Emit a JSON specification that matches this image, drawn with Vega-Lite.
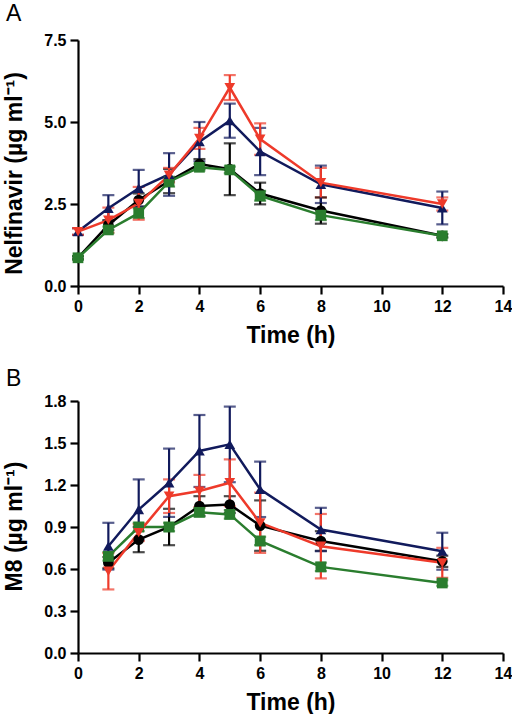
{
  "$schema": "https://vega.github.io/schema/vega-lite/v6.json",
  "background": "white",
  "padding": {"left": 2, "top": 3, "right": 0, "bottom": 0},
  "spacing": 21,
  "config": {
    "font": "Liberation Sans",
    "view": {"stroke": null},
    "axis": {
      "grid": false,
      "domainColor": "black",
      "domainWidth": 2.2,
      "tickColor": "black",
      "tickWidth": 2.2,
      "tickSize": 8,
      "labelFont": "Liberation Sans",
      "labelFontSize": 16,
      "labelFontWeight": "bold",
      "labelColor": "black",
      "labelPadding": 4,
      "labelFlush": false,
      "labelOverlap": false,
      "titleFont": "Liberation Sans",
      "titleFontSize": 23,
      "titleFontWeight": "bold",
      "titleColor": "black"
    },
    "title": {"font": "Liberation Sans", "fontSize": 23, "fontWeight": "normal", "color": "black", "anchor": "start", "frame": "group", "baseline": "alphabetic", "dx": -72}
  },
  "vconcat": [
    {
      "title": {"text": "A", "offset": 6},
      "width": 425,
      "height": 246,
      "data": {"values": [
        {"group": "Group 1", "t": 0, "c": 0.86, "err": 0.05},
        {"group": "Group 1", "t": 1, "c": 1.86, "err": 0.15},
        {"group": "Group 1", "t": 2, "c": 2.62, "err": 0.2},
        {"group": "Group 1", "t": 3, "c": 3.2, "err": 0.37},
        {"group": "Group 1", "t": 4, "c": 3.72, "err": 0.15},
        {"group": "Group 1", "t": 5, "c": 3.56, "err": 0.79},
        {"group": "Group 1", "t": 6, "c": 2.82, "err": 0.33},
        {"group": "Group 1", "t": 8, "c": 2.3, "err": 0.4},
        {"group": "Group 1", "t": 12, "c": 1.53, "err": 0.05},
        {"group": "Group 2", "t": 0, "c": 0.86, "err": 0.05},
        {"group": "Group 2", "t": 1, "c": 1.71, "err": 0.1},
        {"group": "Group 2", "t": 2, "c": 2.22, "err": 0.15},
        {"group": "Group 2", "t": 3, "c": 3.18, "err": 0.15},
        {"group": "Group 2", "t": 4, "c": 3.62, "err": 0.1},
        {"group": "Group 2", "t": 5, "c": 3.54, "err": 0.1},
        {"group": "Group 2", "t": 6, "c": 2.75, "err": 0.15},
        {"group": "Group 2", "t": 8, "c": 2.16, "err": 0.15},
        {"group": "Group 2", "t": 12, "c": 1.53, "err": 0.05},
        {"group": "Group 3", "t": 0, "c": 1.66, "err": 0.1},
        {"group": "Group 3", "t": 1, "c": 2.37, "err": 0.4},
        {"group": "Group 3", "t": 2, "c": 2.98, "err": 0.56},
        {"group": "Group 3", "t": 3, "c": 3.4, "err": 0.65},
        {"group": "Group 3", "t": 4, "c": 4.4, "err": 0.6},
        {"group": "Group 3", "t": 5, "c": 5.04, "err": 0.52},
        {"group": "Group 3", "t": 6, "c": 4.1, "err": 0.72},
        {"group": "Group 3", "t": 8, "c": 3.1, "err": 0.57},
        {"group": "Group 3", "t": 12, "c": 2.38, "err": 0.5},
        {"group": "Group 4", "t": 0, "c": 1.66, "err": 0.1},
        {"group": "Group 4", "t": 1, "c": 2.01, "err": 0.38},
        {"group": "Group 4", "t": 2, "c": 2.52, "err": 0.5},
        {"group": "Group 4", "t": 3, "c": 3.38, "err": 0.22},
        {"group": "Group 4", "t": 4, "c": 4.5, "err": 0.32},
        {"group": "Group 4", "t": 5, "c": 6.05, "err": 0.38},
        {"group": "Group 4", "t": 6, "c": 4.48, "err": 0.48},
        {"group": "Group 4", "t": 8, "c": 3.15, "err": 0.45},
        {"group": "Group 4", "t": 12, "c": 2.5, "err": 0.2}
      ]},
      "transform": [
        {"calculate": "datum.c - datum.err", "as": "lo"},
        {"calculate": "datum.c + datum.err", "as": "hi"}
      ],
      "encoding": {
        "x": {"field": "t", "type": "quantitative", "scale": {"domain": [0, 14], "nice": false},
              "axis": {"values": [0, 2, 4, 6, 8, 10, 12, 14], "title": "Time (h)", "titlePadding": 10}},
        "color": {"field": "group", "type": "nominal", "legend": null,
                  "scale": {"domain": ["Group 1", "Group 2", "Group 3", "Group 4"], "range": ["#000000", "#2a7d2e", "#111a5c", "#ee3a2a"]}}
      },
      "layer": [
        {
          "mark": {"type": "errorbar", "ticks": {"size": 12, "thickness": 2.2}, "thickness": 2.2},
          "encoding": {
            "y": {"field": "lo", "type": "quantitative", "scale": {"domain": [0, 7.5], "nice": false},
                  "axis": {"values": [0, 2.5, 5, 7.5], "format": ".1f", "title": "Nelfinavir (µg ml⁻¹)", "titleBaseline": "alphabetic", "titleX": -57, "titleY": 133, "titleAlign": "center"}},
            "y2": {"field": "hi"}
          }
        },
        {
          "mark": {"type": "line", "strokeWidth": 2.5},
          "encoding": {"y": {"field": "c", "type": "quantitative"}}
        },
        {
          "mark": {"type": "point", "filled": true, "opacity": 1, "size": 115},
          "encoding": {
            "y": {"field": "c", "type": "quantitative"},
            "shape": {"field": "group", "type": "nominal", "legend": null,
                      "scale": {"domain": ["Group 1", "Group 2", "Group 3", "Group 4"], "range": ["circle", "square", "triangle-up", "triangle-down"]}}
          }
        }
      ]
    },
    {
      "title": {"text": "B", "offset": 2},
      "width": 425,
      "height": 252,
      "data": {"values": [
        {"group": "Group 1", "t": 1, "c": 0.645, "err": 0.04},
        {"group": "Group 1", "t": 2, "c": 0.81, "err": 0.09},
        {"group": "Group 1", "t": 3, "c": 0.9, "err": 0.13},
        {"group": "Group 1", "t": 4, "c": 1.05, "err": 0.07},
        {"group": "Group 1", "t": 5, "c": 1.06, "err": 0.06},
        {"group": "Group 1", "t": 6, "c": 0.91, "err": 0.18},
        {"group": "Group 1", "t": 8, "c": 0.8, "err": 0.07},
        {"group": "Group 1", "t": 12, "c": 0.655, "err": 0.04},
        {"group": "Group 2", "t": 1, "c": 0.69, "err": 0.03},
        {"group": "Group 2", "t": 2, "c": 0.9, "err": 0.03},
        {"group": "Group 2", "t": 3, "c": 0.9, "err": 0.03},
        {"group": "Group 2", "t": 4, "c": 1.005, "err": 0.03},
        {"group": "Group 2", "t": 5, "c": 0.99, "err": 0.03},
        {"group": "Group 2", "t": 6, "c": 0.8, "err": 0.03},
        {"group": "Group 2", "t": 8, "c": 0.615, "err": 0.03},
        {"group": "Group 2", "t": 12, "c": 0.5, "err": 0.02},
        {"group": "Group 3", "t": 1, "c": 0.763, "err": 0.167},
        {"group": "Group 3", "t": 2, "c": 1.025, "err": 0.215},
        {"group": "Group 3", "t": 3, "c": 1.216, "err": 0.244},
        {"group": "Group 3", "t": 4, "c": 1.443, "err": 0.257},
        {"group": "Group 3", "t": 5, "c": 1.49, "err": 0.27},
        {"group": "Group 3", "t": 6, "c": 1.169, "err": 0.198},
        {"group": "Group 3", "t": 8, "c": 0.882, "err": 0.155},
        {"group": "Group 3", "t": 12, "c": 0.727, "err": 0.132},
        {"group": "Group 4", "t": 1, "c": 0.584, "err": 0.13},
        {"group": "Group 4", "t": 2, "c": 0.86, "err": 0.06},
        {"group": "Group 4", "t": 3, "c": 1.12, "err": 0.12},
        {"group": "Group 4", "t": 4, "c": 1.157, "err": 0.115},
        {"group": "Group 4", "t": 5, "c": 1.216, "err": 0.167},
        {"group": "Group 4", "t": 6, "c": 0.93, "err": 0.215},
        {"group": "Group 4", "t": 8, "c": 0.763, "err": 0.23},
        {"group": "Group 4", "t": 12, "c": 0.644, "err": 0.107}
      ]},
      "transform": [
        {"calculate": "datum.c - datum.err", "as": "lo"},
        {"calculate": "datum.c + datum.err", "as": "hi"}
      ],
      "encoding": {
        "x": {"field": "t", "type": "quantitative", "scale": {"domain": [0, 14], "nice": false},
              "axis": {"values": [0, 2, 4, 6, 8, 10, 12, 14], "title": "Time (h)", "titlePadding": 10}},
        "color": {"field": "group", "type": "nominal", "legend": null,
                  "scale": {"domain": ["Group 1", "Group 2", "Group 3", "Group 4"], "range": ["#000000", "#2a7d2e", "#111a5c", "#ee3a2a"]}}
      },
      "layer": [
        {
          "mark": {"type": "errorbar", "ticks": {"size": 12, "thickness": 2.2}, "thickness": 2.2},
          "encoding": {
            "y": {"field": "lo", "type": "quantitative", "scale": {"domain": [0, 1.8], "nice": false},
                  "axis": {"values": [0, 0.3, 0.6, 0.9, 1.2, 1.5, 1.8], "format": ".1f", "title": "M8 (µg ml⁻¹)", "titleBaseline": "alphabetic", "titleX": -57, "titleY": 125, "titleAlign": "center"}},
            "y2": {"field": "hi"}
          }
        },
        {
          "mark": {"type": "line", "strokeWidth": 2.5},
          "encoding": {"y": {"field": "c", "type": "quantitative"}}
        },
        {
          "mark": {"type": "point", "filled": true, "opacity": 1, "size": 115},
          "encoding": {
            "y": {"field": "c", "type": "quantitative"},
            "shape": {"field": "group", "type": "nominal", "legend": null,
                      "scale": {"domain": ["Group 1", "Group 2", "Group 3", "Group 4"], "range": ["circle", "square", "triangle-up", "triangle-down"]}}
          }
        }
      ]
    }
  ]
}
